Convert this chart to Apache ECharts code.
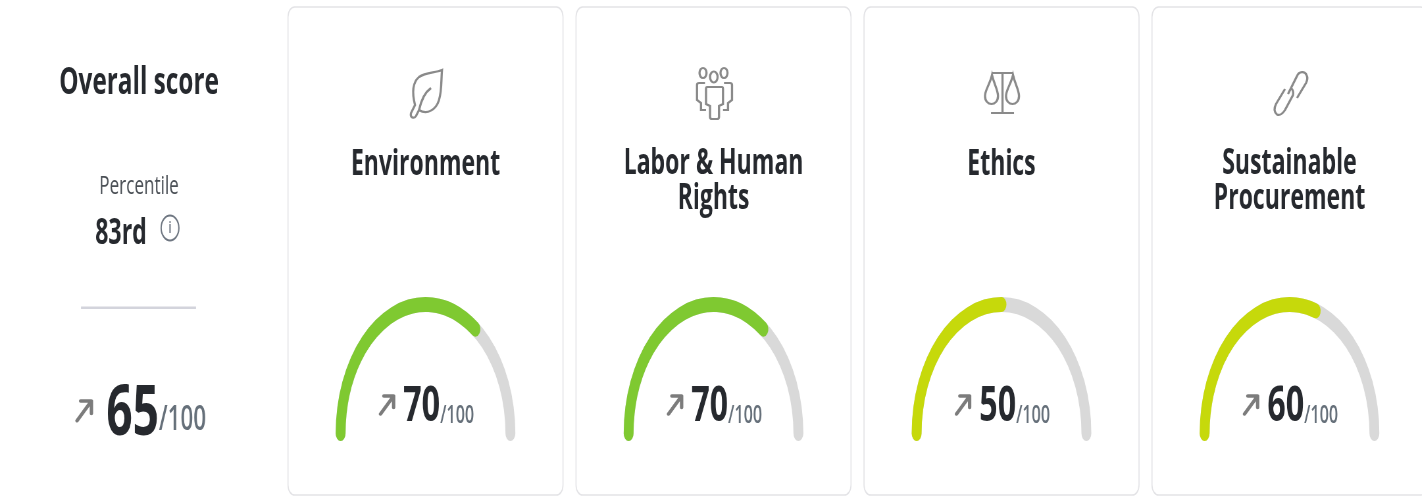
<!DOCTYPE html>
<html><head><meta charset="utf-8">
<script src="https://cdn.jsdelivr.net/npm/echarts@6/dist/echarts.min.js"></script>
<style>
html,body{margin:0;padding:0;background:#fff;overflow:hidden;width:1422px;height:498px}
#clip{width:1422px;height:498px;overflow:hidden;position:relative}
#c{position:absolute;left:0;top:0;transform-origin:0 0}
</style></head><body><div id="clip"><div id="c"></div></div>
<script>
// data
const categories = ['Environment', 'Labor & Human\nRights', 'Ethics', 'Sustainable\nProcurement'];
const scores = [70, 70, 50, 60];
const maxScore = 100;
const overallTitle = 'Overall score';
const overallScore = 65;
const percentileLabel = 'Percentile';
const percentileValue = '83rd';

// layout: the reference is squeezed horizontally, so draw wide and condense
const SX = 0.658, W = 1422 / SX, H = 498;
const X = px => px / SX;
const el = document.getElementById('c');
el.style.width = W + 'px'; el.style.height = H + 'px';
el.style.transform = 'scaleX(' + SX + ')';
const FONT = '"Open Sans"';
const cardLeft = i => 288 + 288 * i;
const cardCx = i => cardLeft(i) + 137.5;
const colorFor = v => v >= 70 ? '#7fc931' : '#c6d90b';

const icons = [
 'M442,70 C435,73 426,72 419,77 C412,83 412,93 415,105 L411,113 C410,118 414,119 416,116 L419,110 C427,115 436,110 439,100 C442,90 441,80 442,70 Z M419,110 C421,101 424,93 431,88',
 'M699.5,73 a3.5,5 0 1,0 7,0 a3.5,5 0 1,0 -7,0 Z M710,77 a3.8,5.5 0 1,0 7.6,0 a3.8,5.5 0 1,0 -7.6,0 Z M720.5,73 a3.5,5 0 1,0 7,0 a3.5,5 0 1,0 -7,0 Z M707,87 L722,87 Q723,87 723,89 L723,104 L719,106 L719,117 Q719,119 717,119 L712,119 Q710,119 710,117 L710,106 L706,104 L706,89 Q706,87 707,87 Z M705,83 L699,83 Q697,83 697,85 L697,100 L701,103 L701,110 L706,110 M724,83 L730,83 Q732,83 732,85 L732,100 L728,103 L728,110 L723,110',
 'M992,73 L1013,73 M1002.5,73 L1002.5,112 M991,113 L1014,113 M992,75 C990,84 985,90 985,96 C985,101 988,104 991.5,104 C995,104 998,101 998,96 C998,90 994,84 992,75 Z M1013,75 C1011,84 1006,90 1006,96 C1006,101 1009,104 1012.5,104 C1016,104 1019,101 1019,96 C1019,90 1015,84 1013,75 Z',
 'M1288,94 L1297,76 C1299,71 1305,71 1306.5,75 C1308,78 1307,81 1306,83 L1297,98 M1285,89 L1276,104 C1274,108 1274,112 1277,114.5 C1280,116 1283,113 1285,110 L1293,95 C1294,91 1292,89 1291,88'
];
icons.forEach((d, i) => echarts.graphic.registerShape('icon' + i, echarts.graphic.extendPath(d, {})));

const arrow = (x, y, s) => ({
  type: 'polyline', x: X(x), y, scaleX: 1 / SX, silent: true,
  shape: { points: [[0, 22 * s], [16 * s, 0], [4 * s, 0], [16 * s, 0], [16 * s, 14 * s]] },
  style: { stroke: '#7c7c7c', lineWidth: 3.4, fill: null, lineJoin: 'round', lineCap: 'round' }
});

const graphics = [];
categories.forEach((_, i) => {
  graphics.push({ type: 'rect', silent: true,
    shape: { x: X(cardLeft(i)), y: 7, width: X(275), height: 488, r: 10 },
    style: { fill: '#fff', stroke: '#e3e3e6', lineWidth: 1.6 } });
});
icons.forEach((d, i) => graphics.push({ type: 'icon' + i, silent: true, scaleX: 1 / SX, x: 0, y: 0,
  style: { fill: null, stroke: '#8a8a8a', lineWidth: 2.2 } }));
categories.forEach((_, i) => graphics.push(arrow(cardCx(i) - 45, 396, 0.82)));
graphics.push(arrow(77, 401, 0.9));
graphics.push({ type: 'rect', silent: true, shape: { x: X(81), y: 306.5, width: X(115), height: 2.6 }, style: { fill: '#d3d4dc' } });
graphics.push({ type: 'ellipse', silent: true, shape: { cx: X(170), cy: 228, rx: 13.5, ry: 12.5 },
  style: { fill: null, stroke: '#6e7681', lineWidth: 2 } });
graphics.push({ type: 'text', silent: true, x: X(170), y: 228,
  style: { text: 'i', font: '600 17px ' + FONT, fill: '#6e7681', align: 'center', verticalAlign: 'middle' } });
// overall text block
const leftText = (text, cx, y, font, fill, align) => ({ type: 'text', silent: true, x: X(cx), y,
  style: { text, font: font + ' ' + FONT, fill, align: align || 'center', verticalAlign: 'middle' } });
graphics.push(leftText(overallTitle, 139, 83, '700 37px', '#26292e'));
graphics.push(leftText(percentileLabel, 139, 187, '400 26px', '#4a4f55'));
graphics.push(leftText(percentileValue, 121, 234, '700 35px', '#26292e'));

const series = categories.map((name, i) => ({
  type: 'gauge', silent: true,
  center: [X(cardCx(i)), 433.5],
  radius: 136.5, min: 0, max: maxScore, startAngle: 180, endAngle: 0,
  axisLine: { roundCap: true, lineStyle: { width: 15, color: [[1, '#d9d9d9']] } },
  progress: { show: true, roundCap: true, width: 15, itemStyle: { color: colorFor(scores[i]) } },
  pointer: { show: false }, axisTick: { show: false }, splitLine: { show: false }, axisLabel: { show: false },
  anchor: { show: false },
  title: { show: true, offsetCenter: [0, name.includes('\n') ? -251.5 : -268.5], fontFamily: FONT, fontWeight: 700, fontSize: 35, lineHeight: 35, color: '#26292e' },
  detail: { show: true, offsetCenter: [20, -27.5], valueAnimation: false,
    formatter: v => '{a|' + v + '}{b|/' + maxScore + '}',
    rich: { a: { fontFamily: FONT, fontWeight: 700, fontSize: 49, color: '#26292e', verticalAlign: 'bottom', lineHeight: 52 },
            b: { fontFamily: FONT, fontWeight: 600, fontSize: 24.5, color: '#66707a', verticalAlign: 'bottom', lineHeight: 34, padding: [0, 0, 3, 0] } } },
  data: [{ value: scores[i], name }]
}));

const chart = echarts.init(el, null, { renderer: 'canvas', width: W, height: H });
chart.setOption({
  animation: false,
  backgroundColor: '#fff',
  title: [{ text: '{a|' + overallScore + '}{b|/' + maxScore + '}', left: X(103), top: 371,
    textStyle: { rich: {
      a: { fontFamily: FONT, fontWeight: 700, fontSize: 70, color: '#26292e', verticalAlign: 'bottom', lineHeight: 74 },
      b: { fontFamily: FONT, fontWeight: 600, fontSize: 34, color: '#66707a', verticalAlign: 'bottom', lineHeight: 50, padding: [0, 0, 13, 0] } } } }],
  graphic: { elements: graphics },
  series
});
</script></body></html>
